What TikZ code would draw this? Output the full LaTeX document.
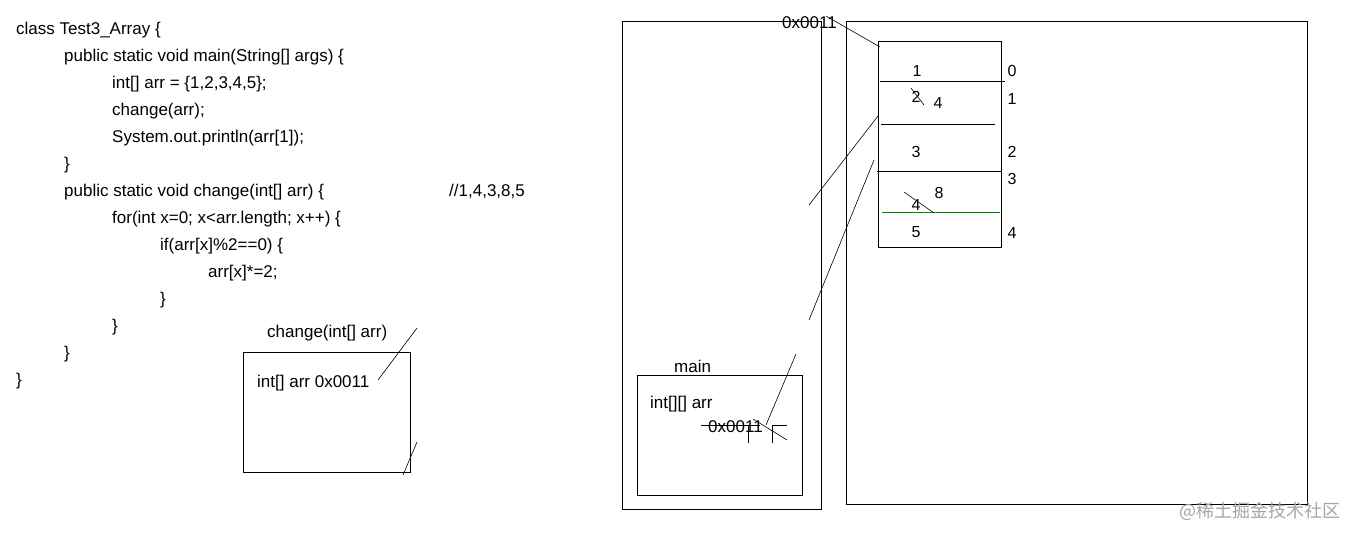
\documentclass[tikz,border=0pt]{standalone}
\usepackage{fontspec}
\setmainfont{Liberation Sans}
\newfontfamily\cjk{Noto Sans CJK SC}
\begin{document}
\begin{tikzpicture}[x=1pt,y=-1pt,
  txt/.style={anchor=base west,inner sep=0pt,font=\fontsize{17}{20}\selectfont},
  num/.style={anchor=center,inner sep=0pt,font=\fontsize{16}{19}\selectfont},
  ln/.style={line width=0.8pt,black},
  thin/.style={line width=0.6pt,black}]
\useasboundingbox[fill=white] (0,0) rectangle (1357,539);
% code
\node[txt] (c1) at (16,34) {class Test3\_Array \{};
\node[txt] (c2) at (64,61) {public static void main(String[] args) \{};
\node[txt] (c3) at (112,88) {int[] arr = \{1,2,3,4,5\};};
\node[txt] (c4) at (112,115) {change(arr);};
\node[txt] (c5) at (112,142) {System.out.println(arr[1]);};
\node[txt] (c6) at (64,169) {\}};
\node[txt] (c7) at (64,196) {public static void change(int[] arr) \{};
\node[txt] (c7b) at (449,196) {//1,4,3,8,5};
\node[txt] (c8) at (112,223) {for(int x=0; x<arr.length; x++) \{};
\node[txt] (c9) at (160,250) {if(arr[x]\%2==0) \{};
\node[txt] (c10) at (208,277) {arr[x]*=2;};
\node[txt] (c11) at (160,304) {\}};
\node[txt] (c12) at (112,331) {\}};
\node[txt] (c13) at (64,358) {\}};
\node[txt] (c14) at (16,385) {\}};
% change frame
\node[txt] (chl) at (267,337) {change(int[] arr)};
\draw[ln] (243,352) rectangle (410,472);
\node[txt] (cha) at (257,387) {int[] arr 0x0011};
\draw[thin] (378,380) -- (417,328);
\draw[thin] (403,475) -- (417,442);
% stack
\draw[ln] (622,21) rectangle (821,509);
\node[txt] (mainl) at (674,372) {main};
\draw[ln] (637,375) rectangle (802,495);
\node[txt] (mv) at (650,408) {int[][] arr};
\node[txt] (ma) at (708,432) {0x0011};
\draw[thin] (701,425.5) -- (760,425.5);
\draw[thin] (796,354) -- (766,425);
\draw[thin] (753,419) -- (787,440);
\draw[thin] (748,426) -- (748,443);
\draw[thin] (772,443) -- (772,425) -- (787,425);
% heap
\draw[ln] (846,21) rectangle (1307,504);
\node[txt] (haddr) at (782,28) {0x0011};
\draw[thin] (826,16) -- (880,47);
\draw[ln] (878,41) rectangle (1001,247);
\draw[ln] (880,81) -- (1005,81);
\draw[ln] (881,124) -- (995,124);
\draw[ln] (877,171) -- (1001,171);
\draw[line width=0.8pt,green!55!black] (882,212) -- (1000,212);
\node[num] (v0) at (917,71) {1};
\node[num] (v1) at (916,97) {2};
\draw[thin] (911,88) -- (924,105);
\node[num] (v1n) at (938,103) {4};
\node[num] (v2) at (916,152) {3};
\node[num] (v3n) at (939,193) {8};
\node[num] (v3) at (916,205) {4};
\draw[thin] (904,192) -- (934,213);
\node[num] (v4) at (916,232) {5};
\node[num] (i0) at (1012,71) {0};
\node[num] (i1) at (1012,99) {1};
\node[num] (i2) at (1012,152) {2};
\node[num] (i3) at (1012,179) {3};
\node[num] (i4) at (1012,233) {4};
\draw[thin] (878,116) -- (809,205);
\draw[thin] (874,160) -- (809,320);
% watermark
\node[anchor=west,inner sep=0pt,text=black!35,font=\cjk\fontsize{18}{21}\selectfont] (wm) at (1179,511) {@稀土掘金技术社区};
\end{tikzpicture}
\end{document}
